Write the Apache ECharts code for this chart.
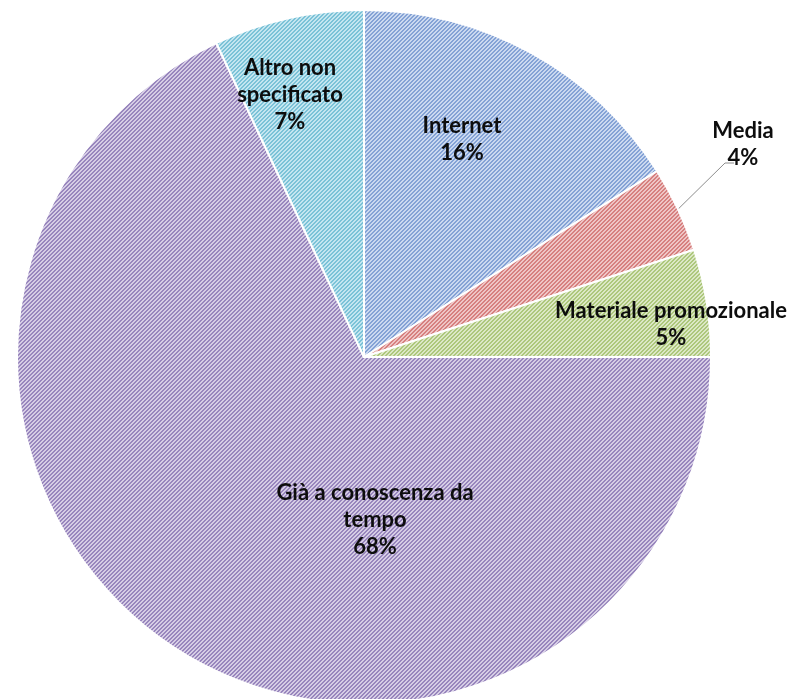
<!DOCTYPE html>
<html>
<head>
<meta charset="utf-8">
<style>
  html, body { margin: 0; padding: 0; background: #ffffff; }
  #chart { width: 791px; height: 699px; }
</style>
<script src="https://cdn.jsdelivr.net/npm/echarts@6/dist/echarts.min.js"></script>
</head>
<body>
<div id="chart"></div>
<script>
// Come si è venuti a conoscenza del servizio
const categories = [
  'Internet',
  'Media',
  'Materiale promozionale',
  'Già a conoscenza da\ntempo',
  'Altro non\nspecificato'
];
const values = [16, 4, 5, 68, 7];

// hatch tile colours: [background, stripe]
const hatchColors = [
  ['#cbd9f0', '#84a2d5'],
  ['#efc5c5', '#d6807f'],
  ['#dce8c6', '#adc77c'],
  ['#d6cde5', '#9886bd'],
  ['#c4e6f0', '#7bc2d7']
];

// label anchors (centre of the text block)
const labelAnchors = [
  [462, 139],
  [743, 144],
  [671, 324],
  [375, 520],
  [290, 95]
];

function hatch(bg, fg) {
  const n = 4;
  const c = document.createElement('canvas');
  c.width = n; c.height = n;
  const ctx = c.getContext('2d');
  for (let y = 0; y < n; y++) {
    for (let x = 0; x < n; x++) {
      ctx.fillStyle = ((x + y) % n) < 2 ? fg : bg;
      ctx.fillRect(x, y, 1, 1);
    }
  }
  return { image: c, repeat: 'repeat' };
}

const labelStyle = {
  formatter: '{b}\n{d}%',
  fontFamily: 'Lato',
  fontWeight: 'bold',
  fontSize: 22,
  lineHeight: 27,
  color: '#0d0d0d',
  align: 'center'
};

const chart = echarts.init(document.getElementById('chart'), null, { renderer: 'canvas' });

const data = categories.map((name, i) => ({
  name: name,
  value: values[i],
  itemStyle: { color: hatch(hatchColors[i][0], hatchColors[i][1]) },
  label: Object.assign({}, labelStyle, { position: i === 1 ? 'outside' : 'inside' }),
  labelLine: { show: i === 1 }
}));

chart.setOption({
  animation: false,
  series: [{
    type: 'pie',
    center: [364, 357],
    radius: 347,
    startAngle: 90,
    clockwise: true,
    avoidLabelOverlap: false,
    itemStyle: { borderColor: '#ffffff', borderWidth: 2 },
    label: labelStyle,
    labelLine: {
      lineStyle: { color: '#8c8c8c', width: 1 },
      length: 40,
      length2: 10
    },
    labelLayout: function (params) {
      const a = labelAnchors[params.dataIndex];
      const out = { x: a[0], y: a[1], align: 'center', verticalAlign: 'middle' };
      if (params.dataIndex === 1 && params.labelLinePoints) {
        const s = params.labelLinePoints[0];
        out.labelLinePoints = [
          [s[0], s[1]],
          [a[0] - 18, a[1] + 19],
          [a[0] - 9, a[1] + 19]
        ];
      }
      return out;
    },
    data: data
  }]
});
</script>
</body>
</html>
